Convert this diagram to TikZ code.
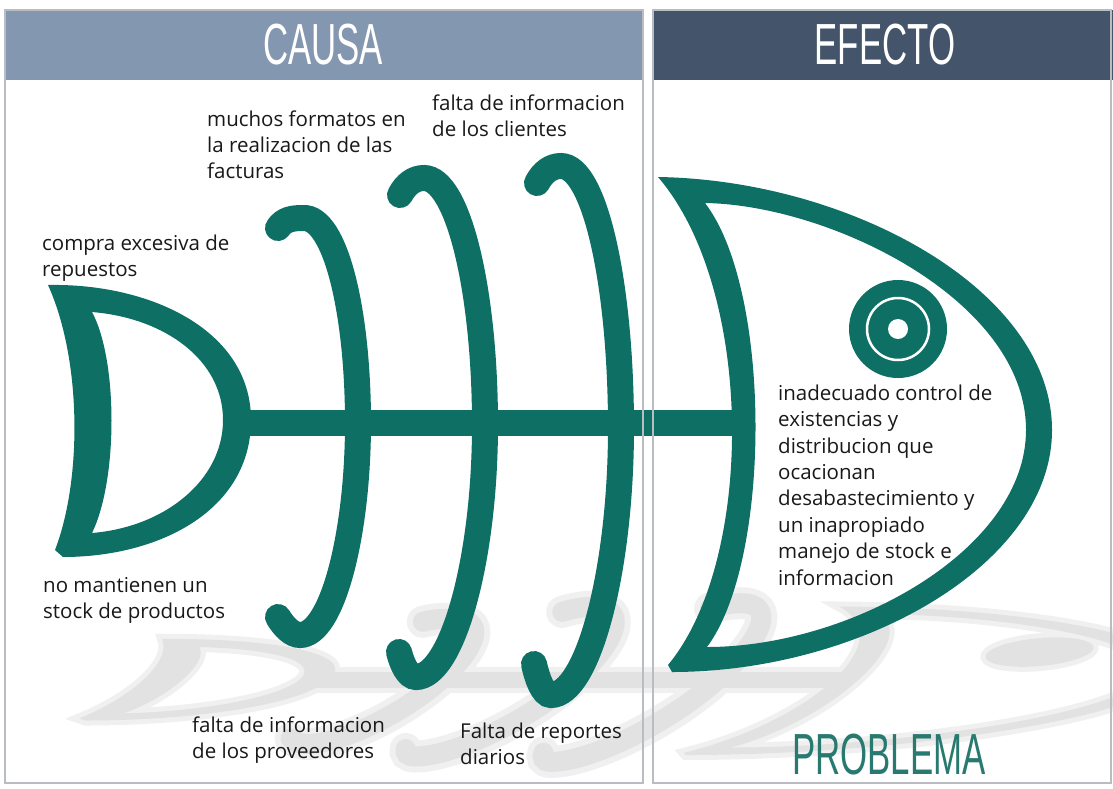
\documentclass[tikz,border=0pt]{standalone}
\usepackage{fontspec}
\setmainfont{Open Sans}
\newfontfamily\headfont{Liberation Sans}
\usetikzlibrary{positioning}

% tail, head, spine and bones of the fish
\newcommand{\fishbody}{%
	\fill[fishfill] (48,285) .. controls (150,283) and (251,330) .. (251,420)
		.. controls (251,510) and (160,557) .. (63,557) -- (55,550)
		.. controls (82,480) and (82,360) .. (48,285) -- cycle
		(92,312) .. controls (165,318) and (223,360) .. (223,420)
		.. controls (223,480) and (165,527) .. (92,533)
		.. controls (118,480) and (118,360) .. (92,312) -- cycle;
	\fill[fishfill] (658,177) .. controls (850,180) and (1052,290) .. (1052,430)
		.. controls (1052,565) and (860,672) .. (672,672) -- (668,665)
		.. controls (755,560) and (755,290) .. (658,177) -- cycle
		(705,203) .. controls (830,205) and (1026,300) .. (1026,430)
		.. controls (1026,550) and (850,647) .. (707,647)
		.. controls (772,560) and (772,290) .. (705,203) -- cycle;
	\fill[fishfill] (898,329) circle [radius=49pt];
	\coordinate (tailend) at (238,423);
	\coordinate (headend) at (745,423);
	\draw[spine] (tailend) -- (headend);
	\draw[bone] (278,228) .. controls (284,219) and (293,218) .. (303,218)
		.. controls (335,216) and (358,310) .. (358,423)
		.. controls (358,535) and (332,635) .. (300,635)
		.. controls (292,635) and (284,627) .. (278,617);
	\draw[bone] (400,195) .. controls (406,184) and (414,178) .. (424,178)
		.. controls (458,178) and (485,290) .. (485,425)
		.. controls (485,560) and (452,677) .. (416,677)
		.. controls (408,677) and (402,664) .. (399,652);
	\draw[bone] (537,183) .. controls (543,172) and (551,166) .. (561,166)
		.. controls (595,166) and (621,285) .. (621,428)
		.. controls (621,570) and (588,695) .. (551,695)
		.. controls (543,695) and (537,678) .. (534,664);
}

\begin{document}
\begin{tikzpicture}[x=1pt,y=-1pt,
	fishfill/.style={fill=fishgreen,even odd rule},
	bone/.style={draw=fishgreen,line width=26pt,line cap=round},
	spine/.style={draw=fishgreen,line width=26pt},
	cause/.style={anchor=base west,align=left,inner sep=0pt,text=textgray,font=\fontsize{20.5}{26}\selectfont},
	headtext/.style={inner sep=0pt,text=white,xscale=0.6,font=\headfont\fontsize{58}{58}\selectfont},
	panelline/.style={draw=panelgray,line width=1.5pt}]
	\definecolor{fishgreen}{RGB}{14,112,101}
	\definecolor{shadowgray}{RGB}{226,226,226}
	\definecolor{shadowlight}{RGB}{240,240,240}
	\definecolor{textgray}{RGB}{25,25,25}
	\definecolor{panelgray}{RGB}{185,188,192}
	\definecolor{causablue}{RGB}{132,151,176}
	\definecolor{efectoblue}{RGB}{68,84,106}
	\definecolor{problemgreen}{RGB}{40,122,112}

	\fill[white] (0,0) rectangle (1113,788);
	\useasboundingbox (0,0) rectangle (1113,788);

	% reflection under the fish, soft edge first
	\begin{scope}[shift={(65,680)}, cm={1.05,0,0.34,0.3,(0,0)}, shift={(0,-422)},
		fishfill/.style={draw=shadowlight,line width=10pt,fill=shadowlight,even odd rule},
		bone/.style={draw=shadowlight,line width=32pt,line cap=round},
		spine/.style={draw=shadowlight,line width=26pt}]
		\fishbody
	\end{scope}
	\begin{scope}[shift={(65,680)}, cm={1.05,0,0.34,0.3,(0,0)}, shift={(0,-422)},
		fishfill/.style={fill=shadowgray,even odd rule},
		bone/.style={draw=shadowgray,line width=20pt,line cap=round},
		spine/.style={draw=shadowgray,line width=16pt}]
		\fishbody
	\end{scope}

	% headers
	\fill[causablue] (5,10) rectangle (643,80);
	\fill[efectoblue] (653,10) rectangle (1113,80);
	\node[headtext] (causa) at (323,45) {CAUSA};
	\node[headtext] (efecto) at (885,45) {EFECTO};
	\node[headtext, text=problemgreen] (problema) at (889,755) {PROBLEMA};

	% the fish
	\fishbody
	\draw[white, line width=2.5pt] (898,329) circle [radius=31pt];
	\fill[white] (898,329) circle [radius=10pt];

	% causes (placed at the baseline of their last line)
	\node[cause] (repuestos) at (42,276) {compra excesiva de\\repuestos};
	\node[cause] (stock) at (43,618) {no mantienen un\\stock de productos};
	\node[cause] (formatos) at (207,178) {muchos formatos en\\la realizacion de las\\facturas};
	\node[cause] (clientes) at (432,136) {falta de informacion\\de los clientes};
	\node[cause] (proveedores) at (192,758) {falta de informacion\\de los proveedores};
	\node[cause] (reportes) at (460,764) {Falta de reportes\\diarios};

	% effect
	\node[cause, font=\fontsize{20.5}{26.4}\selectfont] (efectotext) at (778,585)
		{inadecuado control de\\existencias y\\distribucion que\\ocacionan\\desabastecimiento y\\un inapropiado\\manejo de stock e\\informacion};

	% panels
	\draw[panelline] (5,10) rectangle (643,783);
	\draw[panelline] (653,10) rectangle (1111,783);
\end{tikzpicture}
\end{document}
